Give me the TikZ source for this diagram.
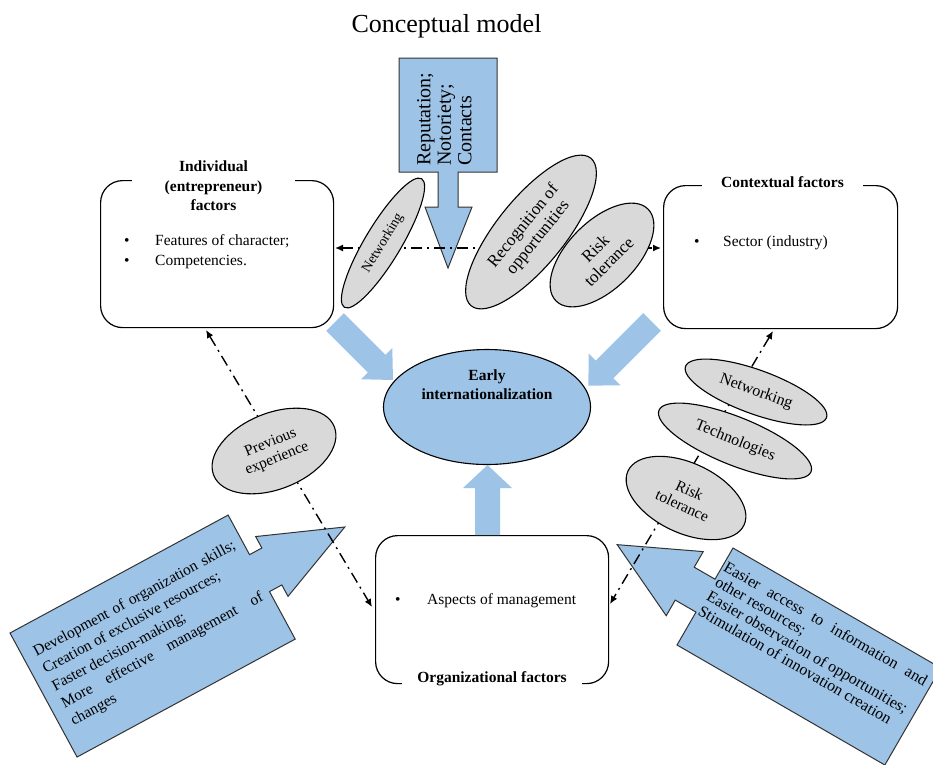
\documentclass[tikz,border=0pt]{standalone}
\usepackage{fontspec}
\setmainfont{Liberation Serif}
\usetikzlibrary{shapes.geometric,arrows.meta}
\definecolor{lblue}{RGB}{157,195,230}
\definecolor{egray}{RGB}{217,217,217}
\tikzset{
  rbox/.style={draw=black, line width=1.2pt, rounded corners=22pt, minimum width=233pt, minimum height=147pt, anchor=north west, inner sep=0pt},
  ttl/.style={font=\bfseries\fontsize{15.5}{19.5}\selectfont, fill=white, inner sep=2pt, align=center},
  body/.style={font=\fontsize{15.5}{20}\selectfont, inner sep=0pt, anchor=base west},
  gell/.style={ellipse, draw=black, line width=1.1pt, fill=egray, inner sep=0pt, align=center, font=\fontsize{15.5}{17}\selectfont},
  fatarrow/.style={fill=lblue},
  bigarrow/.style={draw=black!80, line width=1pt, fill=lblue, line join=miter},
  arrtext/.style={inner sep=0pt, align=left},
  dd/.style={draw=black, line width=1.4pt, dash pattern=on 11pt off 5pt on 2pt off 5pt, {Latex[length=8pt,width=7pt]}-{Latex[length=8pt,width=7pt]}}
}
\begin{document}
\begin{tikzpicture}[x=1pt,y=-1pt]
\useasboundingbox (0,0) rectangle (933,764);

% title
\node[font=\fontsize{26}{30}\selectfont, anchor=base, inner sep=0pt] (title) at (446.5,32) {Conceptual model};

% boxes
\node[rbox, minimum height=147pt] (ind) at (100,180) {};
\node[rbox, minimum height=143pt, minimum width=234pt] (ctx) at (663,185) {};
\node[rbox, minimum height=148pt] (org) at (375,535) {};

\node[ttl, minimum width=163pt] (indT) at (213.5,186) {Individual\\(entrepreneur)\\factors};
\node[ttl, minimum width=161pt, anchor=base] (ctxT) at (782.5,187) {Contextual factors};
\node[ttl, minimum width=180pt, anchor=base] (orgT) at (492,682) {Organizational factors};

\node[body] (indL1) at (124,245) {\makebox[31pt][l]{\textbullet}Features of character;};
\node[body] (indL2) at (124,265) {\makebox[31pt][l]{\textbullet}Competencies.};
\node[body] (ctxL1) at (694,246) {\makebox[29pt][l]{\textbullet}Sector (industry)};
\node[body] (orgL1) at (395,604) {\makebox[32pt][l]{\textbullet}Aspects of management};

% centre ellipse
\node[ellipse, draw=black, line width=1.1pt, fill=lblue, minimum width=207pt, minimum height=115pt, inner sep=0pt] (early) at (487,407) {};
\node[align=center, inner sep=0pt, anchor=base, font=\bfseries\fontsize{15.5}{19}\selectfont] (earlyT) at (487,399) {Early\\internationalization};

% thick arrows to the centre
\begin{scope}[shift={(335,322)}, rotate=-45]
  \fill[fatarrow] (0,-12.5) -- (59,-12.5) -- (59,-22) -- (82,0) -- (59,22) -- (59,12.5) -- (0,12.5) -- cycle;
\end{scope}
\begin{scope}[shift={(652,322)}, rotate=-135]
  \fill[fatarrow] (0,-12.5) -- (67,-12.5) -- (67,-22.5) -- (90,0) -- (67,22.5) -- (67,12.5) -- (0,12.5) -- cycle;
\end{scope}
\begin{scope}[shift={(487.5,535)}, rotate=90]
  \fill[fatarrow] (0,-12.5) -- (47,-12.5) -- (47,-24.5) -- (70,0) -- (47,24.5) -- (47,12.5) -- (0,12.5) -- cycle;
\end{scope}

% top big arrow
\draw[bigarrow] (399,58) -- (497,58) -- (497,172) -- (458,172) -- (458,207) -- (472,207) -- (448,268) -- (425,207) -- (438,207) -- (438,172) -- (399,172) -- cycle;
\node[font=\fontsize{20}{20.5}\selectfont, inner sep=0pt, align=left, rotate=90, anchor=north west] (topT) at (417,166) {Reputation;\\Notoriety;\\Contacts};

% left big arrow
\begin{scope}[shift={(10,633)}, rotate=28.4]
  \draw[bigarrow] (0,0) -- (248,0) -- (248,45) -- (262,45) -- (262,32) -- (345,66) -- (262,100) -- (262,87) -- (248,87) -- (248,141) -- (0,141) -- cycle;
  \node[arrtext, font=\fontsize{15.5}{19.5}\selectfont, rotate=28.4, anchor=north west] (leftT) at (12,22.5) {\makebox[227pt][s]{Development of organization skills;}\\Creation of exclusive resources;\\Faster decision-making;\\\makebox[227pt][s]{More effective management of}\\changes};
\end{scope}

% right big arrow
\begin{scope}[shift={(733,548)}, rotate=-30]
  \draw[bigarrow] (0,0) -- (240,0) -- (240,112) -- (0,112) -- (0,74) -- (-24,74) -- (-24,92) -- (-102,55) -- (-24,18) -- (-24,36) -- (0,36) -- cycle;
  \node[arrtext, font=\fontsize{16}{17}\selectfont, rotate=-30, anchor=north west] (rightT) at (2,13) {\makebox[232pt][s]{Easier access to information and}\\other resources;\\Easier observation of opportunities;\\Stimulation of innovation creation};
\end{scope}

% dash-dot connectors
\coordinate (indE) at (335,248);
\coordinate (ctxW) at (661,248);
\coordinate (indS) at (206,330);
\coordinate (orgW) at (372,607);
\coordinate (ctxS) at (773,331);
\coordinate (orgE) at (610,604);
\draw[dd] (indE) -- (ctxW);
\draw[dd] (indS) -- (orgW);
\draw[dd] (ctxS) -- (orgE);

% grey ellipses
\node[gell, minimum width=150pt, minimum height=36pt, rotate=59, font=\fontsize{14}{16}\selectfont] (netT) at (383,243) {Networking};
\node[gell, minimum width=190pt, minimum height=68pt, rotate=51, font=\fontsize{17}{19}\selectfont] (recog) at (531,232) {Recognition of\\opportunities};
\node[gell, minimum width=130pt, minimum height=68pt, rotate=45, font=\fontsize{17}{19}\selectfont] (riskT) at (602,255) {Risk\\tolerance};
\node[gell, minimum width=130pt, minimum height=76pt, rotate=22] (prev) at (274,451) {Previous\\experience};
\node[gell, minimum width=150pt, minimum height=44pt, rotate=-20, font=\fontsize{16}{18}\selectfont] (netR) at (756,392) {Networking};
\node[gell, minimum width=164pt, minimum height=48pt, rotate=-22, font=\fontsize{16}{18}\selectfont] (techR) at (735,441) {Technologies};
\node[gell, minimum width=128pt, minimum height=70pt, rotate=-25] (riskR) at (686,498) {Risk\\tolerance};
\end{tikzpicture}
\end{document}
